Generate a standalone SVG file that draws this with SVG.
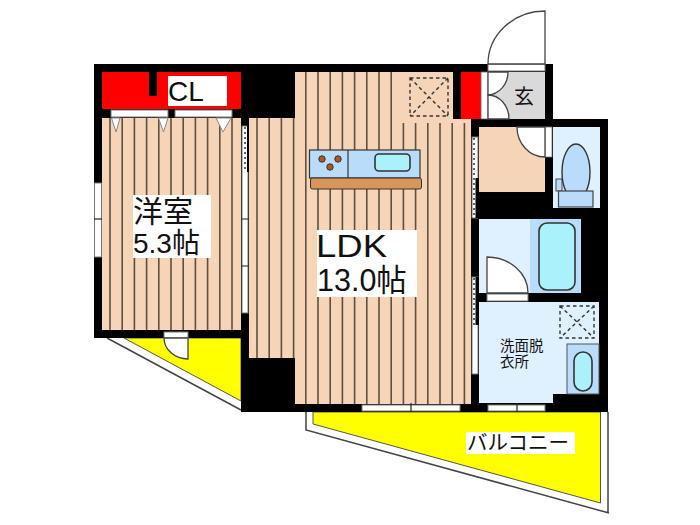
<svg xmlns="http://www.w3.org/2000/svg" width="700" height="525" viewBox="0 0 700 525">
<style>
text{font-family:"Liberation Sans","Noto Sans CJK JP",sans-serif;fill:#111}
.floor{fill:#f5d4b8}
.st{stroke:#5e5040;stroke-width:1.6;fill:none}
.blue{fill:#dff0ff}
.wet{fill:#b9dcfb}
.tub{fill:#aaf1fb;stroke:#333;stroke-width:1.6}
.ln{stroke:#444;stroke-width:1.5;fill:none}
.door{fill:#fff;stroke:#444;stroke-width:1.3}
.win{fill:#fff;stroke:#777;stroke-width:1}
.dot{stroke:#666;stroke-width:2;stroke-dasharray:2 3;fill:none}
.dash{stroke:#333;stroke-width:1.4;stroke-dasharray:3.5 3;fill:none}
.tri{fill:#fff;stroke:#888;stroke-width:1}
.yel{fill:#ffff00;stroke:#555;stroke-width:1}
.tick{stroke:#222;stroke-width:1.2}
</style>
<rect width="700" height="525" fill="#fff"/>
<g id="balconies">
<path class="ln" d="M107 338L241 410M306 412V430L609 513M608 412V513"/>
<path class="yel" d="M124 338H241V401Z"/>
<path class="yel" d="M313 412H600.500V503L313 424Z"/>
</g>
<path id="walls" d="M94 64H553V119H608V412H241V338H94Z" fill="#000"/>
<g id="floors">
<rect class="floor" x="102" y="118" width="139" height="212"/>
<path class="floor" d="M295 72H453V119H471V404H295V358H249V118H295Z"/>
<rect class="floor" x="479" y="127" width="66" height="65"/>
<rect class="blue" x="553" y="127" width="47" height="81"/>
<rect class="blue" x="479" y="219" width="51" height="74"/>
<path class="blue" d="M479 302H599V394H553V403H479Z"/>
<rect class="wet" x="530" y="219" width="51" height="74"/>
<rect class="wet" x="567" y="344" width="32" height="50" stroke="#555" stroke-width="1"/>
<rect x="488" y="72" width="57" height="47" fill="#d9d9d9"/>
</g>
<g id="stripes">
<path class="st" d="M110 118V330M122.200 118V330M134.400 118V330M146.600 118V330M158.800 118V330M171 118V330M183.200 118V330M195.400 118V330M207.600 118V330M219.800 118V330M232 118V330"/>
<path class="st" d="M257 118V358M269.200 118V358M281.400 118V358M293.600 118V358"/>
<path class="st" d="M305.800 72V404M318 72V404M330.200 72V404M342.400 72V404M354.600 72V404M366.800 72V404M379 72V404M391.200 72V404M403.400 123V404M415.600 123V404M427.800 123V404M440 123V404M452.200 123V404M464.400 123V404"/>
</g>
<g id="closet">
<rect x="102" y="72" width="139" height="37" fill="#f00"/>
<rect x="149" y="72" width="8" height="24" fill="#000"/>
<rect x="168" y="76" width="59" height="30" fill="#fff"/>
<text x="168" y="101" font-size="28">CL</text>
<rect class="win" x="111" y="110" width="57" height="7"/>
<rect class="win" x="175" y="110" width="57" height="7"/>
<path class="tri" d="M111.500 118H120L116 132Z"/>
<path class="tri" d="M158.500 118H168L163.500 132Z"/>
<path class="tri" d="M216 118H231L223 132Z"/>
</g>
<g id="western-room-label">
<rect x="133" y="195" width="78" height="63" fill="#fff"/>
<text x="133" y="222" font-size="30">洋室</text>
<text x="133" y="253" font-size="28">5.3帖</text>
</g>
<g id="western-room-door">
<rect class="win" x="164" y="332" width="24" height="6"/>
<path class="door" d="M164 338H188V359A24 21 0 0 1 164 338Z"/>
</g>
<g id="ldk-label">
<rect x="317" y="230" width="100" height="67" fill="#fff"/>
<text x="316" y="257" font-size="32" textLength="71" lengthAdjust="spacingAndGlyphs">LDK</text>
<text x="317" y="291" font-size="30.500">13.0帖</text>
</g>
<g id="kitchen">
<rect x="309.500" y="150" width="110.500" height="28" fill="#b9dcfb" stroke="#333" stroke-width="1.2"/>
<path d="M348 150V178" stroke="#333" stroke-width="1.2"/>
<rect x="375" y="154" width="35" height="17" rx="4" class="tub"/>
<circle cx="322" cy="159" r="3.200" fill="#b5561c" stroke="#333"/>
<circle cx="338" cy="159" r="3.200" fill="#b5561c" stroke="#333"/>
<circle cx="330" cy="167" r="3.200" fill="#b5561c" stroke="#333"/>
<rect x="310.500" y="178" width="111" height="11" rx="2" fill="#d9965a" stroke="#333"/>
<path class="dash" d="M410 78H448V116H410ZM410 78L448 116M448 78L410 116"/>
</g>
<g id="entrance">
<rect x="461" y="72" width="20" height="47" fill="#f00"/>
<rect x="481" y="72" width="7" height="47" fill="#fff" stroke="#666" stroke-width="0.800"/>
<rect class="win" x="488" y="64" width="57" height="7"/>
<path class="door" d="M545 64V11A57 53 0 0 0 488 64Z"/>
<path class="door" d="M488 72H508A21 23 0 0 1 488 95Z"/>
<path class="door" d="M488 95A21 24 0 0 1 509 119H488Z"/>
<text x="514" y="104" font-size="20">玄</text>
</g>
<g id="storage">
<rect x="545" y="127" width="7" height="30" fill="#fff" stroke="#777" stroke-width="0.800"/>
<path class="door" d="M517 127H545V157A28 30 0 0 1 517 127Z"/>
</g>
<g id="toilet">
<rect x="556" y="179" width="6" height="12" fill="#b9dcfb" stroke="#444"/>
<ellipse cx="576" cy="172" rx="14" ry="28" fill="#b9dcfb" stroke="#333" stroke-width="1.400"/>
<rect x="558.500" y="191" width="34.500" height="16" fill="#b9dcfb" stroke="#444" stroke-width="1.200"/>
</g>
<g id="bath">
<rect x="539" y="223" width="36" height="67" rx="8" class="tub"/>
<rect class="win" x="487" y="294" width="41" height="7"/>
<path class="door" d="M487 293V257A41 36 0 0 1 528 293Z"/>
</g>
<g id="washroom">
<path class="dash" d="M560 306H594V338H560ZM560 306L594 338M594 306L560 338"/>
<rect x="574" y="352" width="18" height="39" rx="9" class="tub"/>
<text x="500" y="351" font-size="14.500">洗面脱</text>
<text x="500" y="367" font-size="14.500">衣所</text>
<rect class="win" x="488" y="405" width="57" height="6"/>
<path class="tick" d="M517 403V412"/>
</g>
<g id="windows">
<rect class="win" x="362" y="405" width="98" height="6"/>
<path class="tick" d="M411 403V412"/>
<rect x="94.500" y="183" width="7" height="74" class="win"/>
<path class="tick" d="M94 219H102"/>
<rect x="242" y="126" width="6" height="187" class="win"/>
<rect x="247" y="118" width="2" height="54" fill="#000"/>
<path class="dot" d="M245 127V172"/>
<path class="tick" d="M241 219H249M241 266H249"/>
<rect x="472" y="137" width="6" height="81" class="win"/>
<rect x="475.500" y="178" width="3.500" height="40" fill="#000"/>
<path class="dot" d="M474 138V217"/>
<rect x="472" y="277" width="6" height="97" class="win"/>
<rect x="475.500" y="277" width="3.500" height="48" fill="#000"/>
<path class="dot" d="M474 278V325"/>
</g>
<g id="balcony-label">
<rect x="466" y="432" width="109" height="22" fill="#fff"/>
<text x="467" y="450" font-size="20.500">バルコニー</text>
</g>
</svg>
